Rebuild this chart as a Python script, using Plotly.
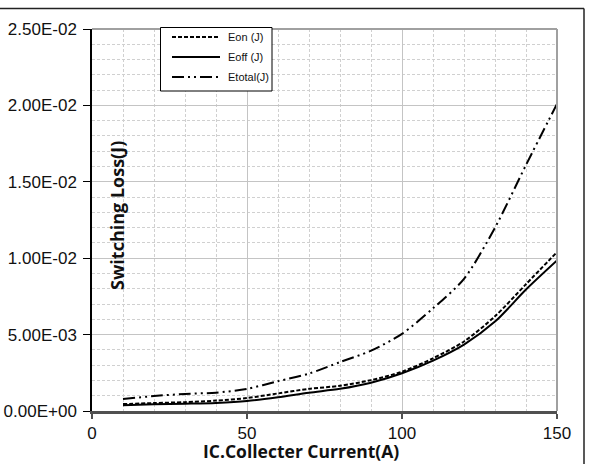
import plotly.graph_objects as go

# ---- data ----
current_a = [10, 20, 30, 40, 50, 60, 70, 80, 90, 100, 110, 120, 130, 140, 150]
eon_j = [0.45e-3, 0.52e-3, 0.58e-3, 0.68e-3, 0.85e-3, 1.15e-3, 1.45e-3, 1.65e-3, 2.02e-3,
         2.57e-3, 3.45e-3, 4.55e-3, 6.20e-3, 8.30e-3, 10.40e-3]
eoff_j = [0.38e-3, 0.44e-3, 0.48e-3, 0.53e-3, 0.65e-3, 0.90e-3, 1.20e-3, 1.45e-3, 1.85e-3,
          2.47e-3, 3.30e-3, 4.35e-3, 5.85e-3, 7.95e-3, 9.85e-3]
etotal_j = [0.78e-3, 0.98e-3, 1.12e-3, 1.20e-3, 1.45e-3, 1.95e-3, 2.45e-3, 3.20e-3, 3.95e-3,
            5.05e-3, 6.72e-3, 8.65e-3, 12.00e-3, 16.10e-3, 20.10e-3]
series_names = ["Eon (J)", "Eoff (J)", "Etotal(J)"]
ytick_vals = [0, 0.005, 0.010, 0.015, 0.020, 0.025]
ytick_labels = ["0.00E+00", "5.00E-03", "1.00E-02", "1.50E-02", "2.00E-02", "2.50E-02"]
xtick_vals = [0, 50, 100, 150]
x_title = "IC.Collecter Current(A)"
y_title = "Switching Loss(J)"

W, H = 590, 464
# plot area in pixels: left 92, right 557, top 29, bottom 411
L, T = 92, 29
R, B = W - 557, H - 411
pw, ph = W - L - R, H - T - B


def px_x(sx):
    return (sx - L) / pw


def px_y(sy):
    return (H - B - sy) / ph


fig = go.Figure()
dashes = ["4px,2px", "solid", "12px,4px,2px,4px,2px,4px"]
for name, ys, dsh in zip(series_names, [eon_j, eoff_j, etotal_j], dashes):
    fig.add_trace(go.Scatter(
        x=current_a, y=ys, name=name, mode="lines", showlegend=False,
        line=dict(color="black", width=2, dash=dsh, shape="spline", smoothing=0.8),
    ))

grid_major = "#c4c4c4"
grid_minor = "#d0d0d0"
tick_font = dict(size=17, family="Liberation Sans, Arial, sans-serif", color="#111")

shapes = [
    # plot-area top and right edges (gray)
    dict(type="line", xref="paper", yref="paper", x0=0, x1=1, y0=1, y1=1,
         line=dict(color="#a0a0a0", width=2)),
    dict(type="line", xref="paper", yref="paper", x0=1, x1=1, y0=0, y1=1,
         line=dict(color="#a0a0a0", width=2)),
    # outer chart frame (partially cropped in the reference)
    dict(type="line", xref="paper", yref="paper", x0=px_x(-20), x1=px_x(584),
         y0=px_y(8.5), y1=px_y(8.5), line=dict(color="#222", width=1.5)),
    dict(type="line", xref="paper", yref="paper", x0=px_x(584), x1=px_x(584),
         y0=px_y(8.5), y1=px_y(500), line=dict(color="#222", width=1.5)),
    # legend box
    dict(type="rect", xref="paper", yref="paper", x0=px_x(160.5), x1=px_x(272),
         y0=px_y(27.5), y1=px_y(91), fillcolor="white",
         line=dict(color="black", width=1), layer="above"),
]
annotations = [
    dict(text="<b>" + y_title + "</b>", xref="paper", yref="paper",
         x=px_x(117), y=px_y(216), xanchor="center", yanchor="middle",
         textangle=-90, showarrow=False,
         font=dict(family="Open Sans, sans-serif", size=18, color="#111")),
    dict(text="<b>" + x_title + "</b>", xref="paper", yref="paper",
         x=px_x(301), y=px_y(451), xanchor="center", yanchor="middle",
         showarrow=False,
         font=dict(family="Open Sans, sans-serif", size=17.5, color="#111")),
]
# legend entries drawn by hand to match the reference sample length
for i, (name, dsh) in enumerate(zip(series_names, dashes)):
    ly = 37 + 20 * i
    shapes.append(dict(type="line", xref="paper", yref="paper",
                       x0=px_x(172), x1=px_x(220), y0=px_y(ly), y1=px_y(ly),
                       line=dict(color="black", width=2, dash=dsh), layer="above"))
    annotations.append(dict(text=name, xref="paper", yref="paper",
                            x=px_x(226), y=px_y(ly), xanchor="left", yanchor="middle",
                            showarrow=False,
                            font=dict(family="Liberation Sans, Arial, sans-serif",
                                      size=11, color="#111")))

fig.update_layout(
    width=W, height=H,
    margin=dict(l=L, r=R, t=T, b=B, pad=0, autoexpand=False),
    paper_bgcolor="white", plot_bgcolor="white",
    font=dict(family="Liberation Sans, Arial, sans-serif", color="#111"),
    showlegend=False,
    xaxis=dict(
        range=[0, 150], tickvals=xtick_vals, ticks="outside", ticklen=5,
        tickcolor="#505050", tickwidth=1.5,
        showline=True, linecolor="#505050", linewidth=2.5,
        showgrid=True, gridcolor=grid_major, gridwidth=1,
        minor=dict(dtick=10, tick0=0, showgrid=True, gridcolor=grid_minor,
                   griddash="3px,2px", gridwidth=1, ticks=""),
        tickfont=tick_font, ticklabelstandoff=0, automargin=False,
        zeroline=False, fixedrange=True,
    ),
    yaxis=dict(
        range=[0, 0.025], tickvals=ytick_vals, ticktext=ytick_labels,
        ticks="outside", ticklen=7, tickcolor="black", tickwidth=1,
        showline=True, linecolor="black", linewidth=1.5,
        showgrid=True, gridcolor=grid_major, gridwidth=1,
        minor=dict(dtick=0.001, tick0=0, showgrid=True, gridcolor=grid_minor,
                   griddash="3px,2px", gridwidth=1, ticks=""),
        tickfont=tick_font, ticklabelstandoff=3, automargin=False,
        zeroline=False, fixedrange=True,
    ),
    shapes=shapes,
    annotations=annotations,
)

fig.write_html("out.html", config={"displayModeBar": False},
               post_script="document.body.style.margin='0px';")
